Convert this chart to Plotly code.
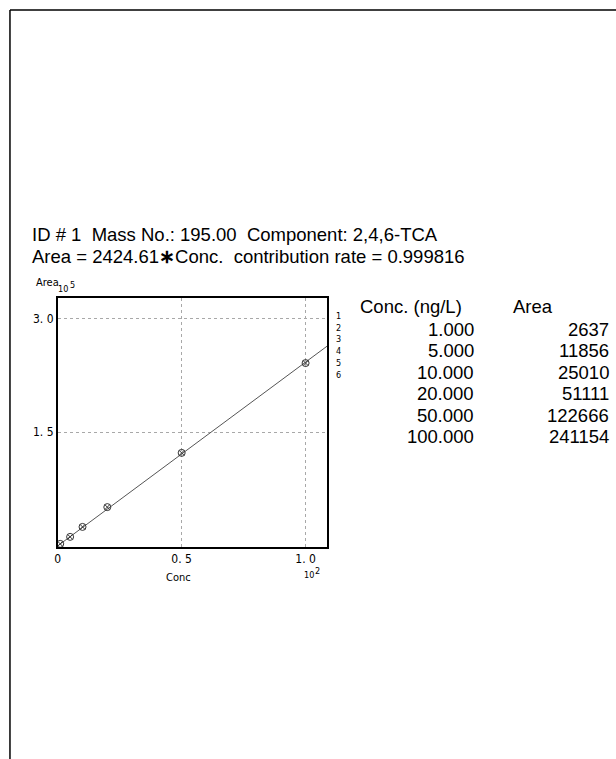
import plotly.graph_objects as go

# Calibration data for 2,4,6-TCA (m/z 195.00)
conc = [1.0, 5.0, 10.0, 20.0, 50.0, 100.0]
area = [2637, 11856, 25010, 51111, 122666, 241154]
slope = 2424.61
r2 = 0.999816
point_ids = ["1", "2", "3", "4", "5", "6"]

x_ticks = [0, 50, 100]
x_tick_text = ["0", "0. 5", "1. 0"]
y_ticks = [150000, 300000]
y_tick_text = ["1. 5", "3. 0"]

W, H = 616, 759
X_MAX = 108.8
Y_MIN, Y_MAX = -1500, 327000

def px(x):
    return x / W

def py(y):
    return 1 - y / H

fig = go.Figure()

# regression line through origin
line_x = [0, X_MAX]
line_y = [slope * v for v in line_x]
fig.add_trace(go.Scatter(x=line_x, y=line_y, mode="lines",
                         line=dict(color="#555555", width=1),
                         hoverinfo="skip", showlegend=False))

# calibration points
fig.add_trace(go.Scatter(x=conc, y=area, mode="markers",
                         marker=dict(symbol="circle-x-open", size=7,
                                     color="#333333", line=dict(width=1)),
                         showlegend=False))

tick_font = dict(family="DejaVu Sans Condensed, DejaVu Sans", size=12, color="black")
grid = dict(showgrid=True, gridcolor="#a8a8a8", griddash="3px,3px", gridwidth=1)

fig.update_xaxes(range=[0, X_MAX], domain=[px(55), px(326)],
                 tickvals=x_ticks, ticktext=x_tick_text, tickfont=tick_font,
                 ticks="", showline=True, linecolor="black", linewidth=1.5,
                 mirror=True, zeroline=False, **grid)
fig.update_yaxes(range=[Y_MIN, Y_MAX], domain=[py(547), py(298)],
                 tickvals=y_ticks, ticktext=y_tick_text, tickfont=tick_font,
                 ticks="", showline=True, linecolor="black", linewidth=1.5,
                 mirror=True, zeroline=False, **grid)

text_font = dict(family="Liberation Sans, Arial", size=18.5, color="black")
small_font = dict(family="DejaVu Sans Condensed, DejaVu Sans", size=11, color="black")
exp_font = dict(family="DejaVu Sans Condensed, DejaVu Sans", size=9, color="black")

annotations = [
    dict(x=px(27), y=py(234), text="ID # 1  Mass No.: 195.00  Component: 2,4,6-TCA",
         xanchor="left", yanchor="middle", font=text_font),
    dict(x=px(27), y=py(256),
         text=f"Area = {slope:.2f}<b>∗</b>Conc.  contribution rate = {r2:.6f}",
         xanchor="left", yanchor="middle", font=text_font),
    # y-axis name with its 10^5 multiplier
    dict(x=px(31), y=py(283), text="Area", xanchor="left", yanchor="middle",
         font=small_font),
    dict(x=px(53), y=py(289), text="10", xanchor="left", yanchor="middle",
         font=exp_font),
    dict(x=px(65), y=py(285), text="5", xanchor="left", yanchor="middle",
         font=exp_font),
    # x-axis name with its 10^2 multiplier
    dict(x=px(176), y=py(577), text="Conc", xanchor="center", yanchor="middle",
         font=small_font),
    dict(x=px(300), y=py(575), text="10", xanchor="left", yanchor="middle",
         font=exp_font),
    dict(x=px(312), y=py(571), text="2", xanchor="left", yanchor="middle",
         font=exp_font),
    # calibration table header
    dict(x=px(357), y=py(307), text="Conc. (ng/L)", xanchor="left", yanchor="middle",
         font=text_font),
    dict(x=px(510), y=py(307), text="Area", xanchor="left", yanchor="middle",
         font=text_font),
]

for i, (c, a) in enumerate(zip(conc, area)):
    y = 329 + 21.5 * i
    annotations.append(dict(x=px(475), y=py(y), text=f"{c:.3f}", xanchor="right",
                            yanchor="middle", font=text_font))
    annotations.append(dict(x=px(611), y=py(y), text=f"{a}", xanchor="right",
                            yanchor="middle", font=text_font))

# point numbers stacked beside the frame
annotations.append(dict(x=px(337), y=py(309), text="<br>".join(point_ids),
                        xanchor="center", yanchor="top", align="center",
                        font=dict(family="DejaVu Sans Condensed", size=9,
                                  color="black")))

for a in annotations:
    a.update(xref="paper", yref="paper", showarrow=False)

# page frame
shapes = [
    dict(type="line", xref="paper", yref="paper", x0=px(7), x1=1.0, y0=py(10), y1=py(10),
         line=dict(color="black", width=1.5)),
    dict(type="line", xref="paper", yref="paper", x0=px(7), x1=px(7), y0=py(10), y1=0,
         line=dict(color="black", width=1.5)),
]

fig.update_layout(width=W, height=H, margin=dict(l=0, r=0, t=0, b=0),
                  paper_bgcolor="white", plot_bgcolor="white",
                  annotations=annotations, shapes=shapes, showlegend=False)

fig.write_html("out.html")
